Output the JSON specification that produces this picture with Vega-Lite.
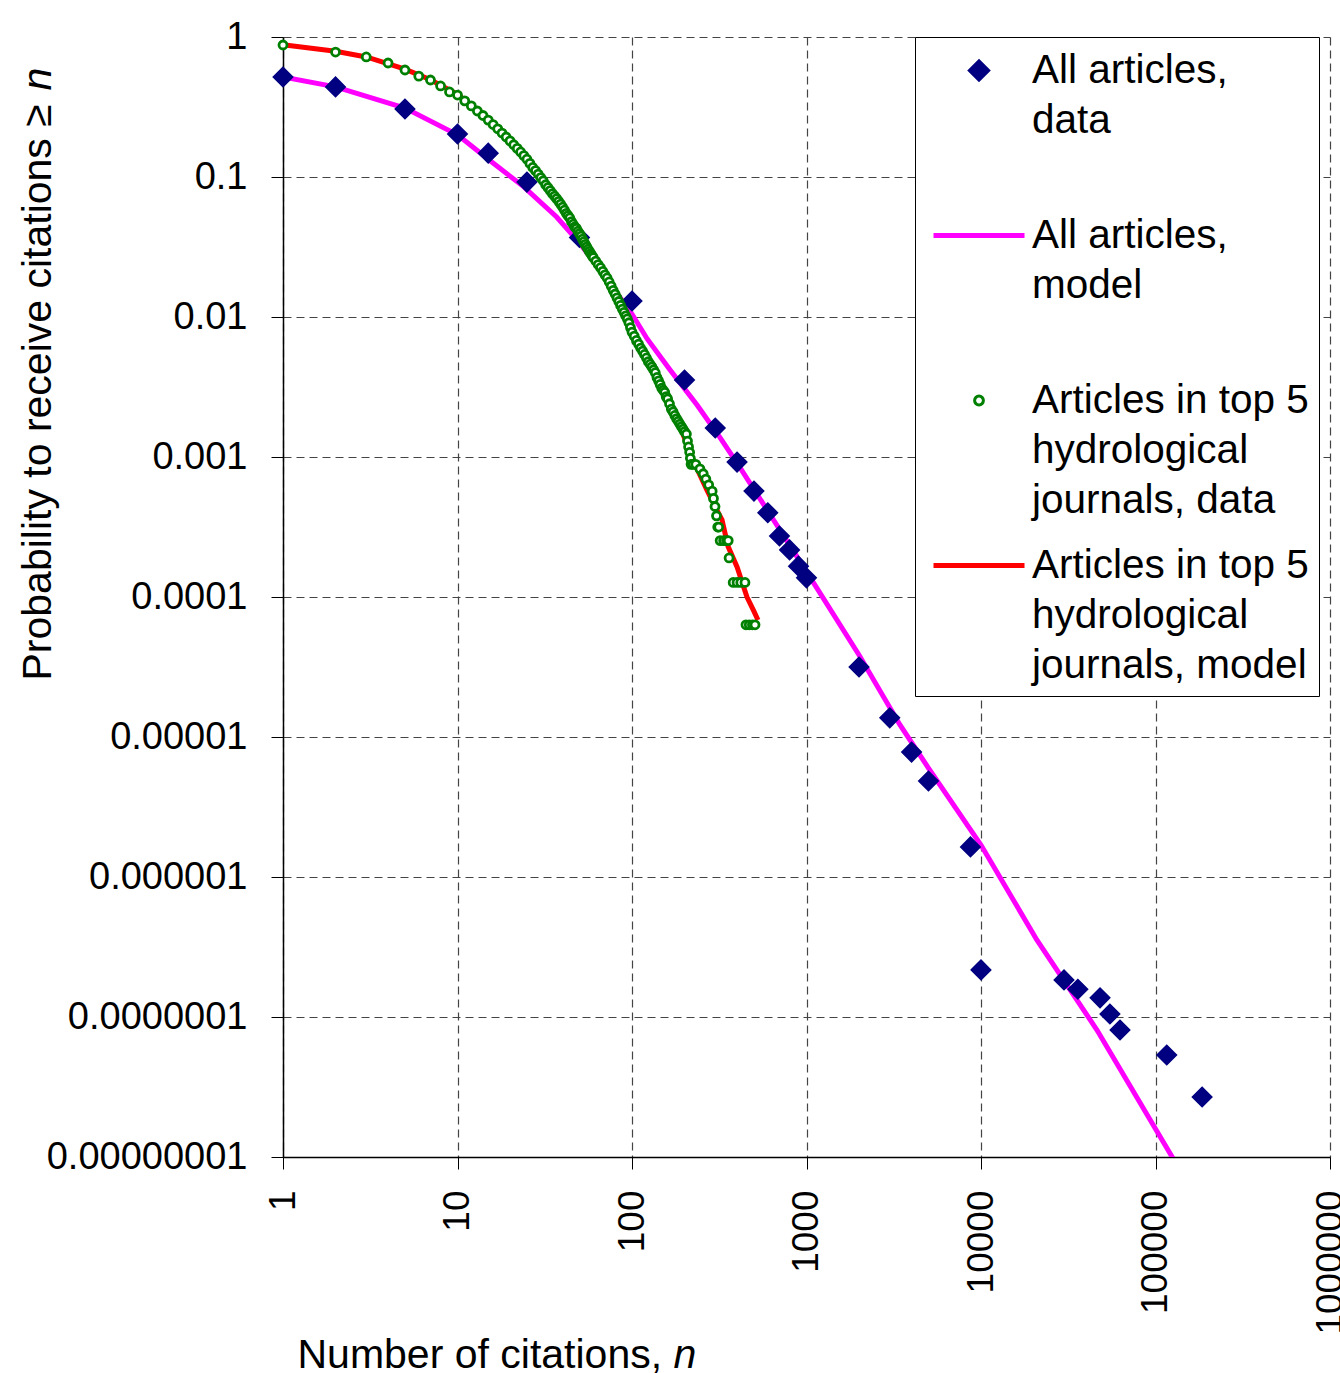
{
  "$schema": "https://vega.github.io/schema/vega-lite/v6.json",
  "width": 1047,
  "height": 1120,
  "autosize": {"type": "none"},
  "padding": {"left": 283, "top": 37, "right": 10, "bottom": 216},
  "background": "white",
  "datasets": {
    "A": [
      {"n": 1, "p": 0.518, "s": "A"}, {"n": 2, "p": 0.44, "s": "A"}, {"n": 5, "p": 0.306, "s": "A"},
      {"n": 10, "p": 0.203, "s": "A"}, {"n": 15, "p": 0.148, "s": "A"}, {"n": 25, "p": 0.092, "s": "A"},
      {"n": 50, "p": 0.037, "s": "A"}, {"n": 100, "p": 0.013, "s": "A"}, {"n": 200, "p": 0.00355, "s": "A"},
      {"n": 300, "p": 0.00161, "s": "A"}, {"n": 400, "p": 0.00092, "s": "A"}, {"n": 500, "p": 0.000571, "s": "A"},
      {"n": 600, "p": 0.0004, "s": "A"}, {"n": 700, "p": 0.000273, "s": "A"}, {"n": 800, "p": 0.000217, "s": "A"},
      {"n": 900, "p": 0.000166, "s": "A"}, {"n": 1000, "p": 0.000137, "s": "A"}, {"n": 2000, "p": 3.16e-5, "s": "A"},
      {"n": 3000, "p": 1.37e-5, "s": "A"}, {"n": 4000, "p": 7.8e-6, "s": "A"}, {"n": 5000, "p": 4.85e-6, "s": "A"},
      {"n": 8700, "p": 1.64e-6, "s": "A"}, {"n": 10000, "p": 2.17e-7, "s": "A"}, {"n": 29900, "p": 1.84e-7, "s": "A"},
      {"n": 35900, "p": 1.58e-7, "s": "A"}, {"n": 48100, "p": 1.37e-7, "s": "A"}, {"n": 54800, "p": 1.05e-7, "s": "A"},
      {"n": 62600, "p": 8.07e-8, "s": "A"}, {"n": 116000, "p": 5.35e-8, "s": "A"}, {"n": 185000, "p": 2.68e-8, "s": "A"}
    ],
    "B": [
      {"n": 1, "p": 0.518, "s": "B"}, {"n": 2, "p": 0.44, "s": "B"}, {"n": 5, "p": 0.311, "s": "B"},
      {"n": 10, "p": 0.2, "s": "B"}, {"n": 15, "p": 0.134, "s": "B"}, {"n": 24, "p": 0.085, "s": "B"},
      {"n": 37, "p": 0.0518, "s": "B"}, {"n": 50, "p": 0.0338, "s": "B"}, {"n": 70, "p": 0.0195, "s": "B"},
      {"n": 100, "p": 0.0105, "s": "B"}, {"n": 122, "p": 0.007, "s": "B"}, {"n": 165, "p": 0.0042, "s": "B"},
      {"n": 236, "p": 0.00235, "s": "B"}, {"n": 319, "p": 0.00138, "s": "B"}, {"n": 416, "p": 0.00084, "s": "B"},
      {"n": 594, "p": 0.00042, "s": "B"}, {"n": 800, "p": 0.000235, "s": "B"}, {"n": 1000, "p": 0.000152, "s": "B"},
      {"n": 2000, "p": 3.85e-5, "s": "B"}, {"n": 3435, "p": 1.22e-5, "s": "B"}, {"n": 5000, "p": 6.0e-6, "s": "B"},
      {"n": 10000, "p": 1.69e-6, "s": "B"}, {"n": 20900, "p": 3.55e-7, "s": "B"}, {"n": 46200, "p": 8.07e-8, "s": "B"},
      {"n": 147600, "p": 7.0e-9, "s": "B"}
    ],
    "C": [
      {"n": 1, "p": 0.877, "s": "C"}, {"n": 2, "p": 0.781, "s": "C"}, {"n": 3, "p": 0.72, "s": "C"},
      {"n": 4, "p": 0.652, "s": "C"}, {"n": 5, "p": 0.581, "s": "C"}, {"n": 6, "p": 0.525, "s": "C"},
      {"n": 7, "p": 0.493, "s": "C"}, {"n": 8, "p": 0.447, "s": "C"}, {"n": 9, "p": 0.405, "s": "C"},
      {"n": 10, "p": 0.385, "s": "C"}, {"n": 11, "p": 0.35, "s": "C"}, {"n": 12, "p": 0.322, "s": "C"},
      {"n": 13, "p": 0.296, "s": "C"}, {"n": 14, "p": 0.275, "s": "C"}, {"n": 15, "p": 0.255, "s": "C"},
      {"n": 16, "p": 0.237, "s": "C"}, {"n": 17, "p": 0.221, "s": "C"}, {"n": 18, "p": 0.206, "s": "C"},
      {"n": 19, "p": 0.193, "s": "C"}, {"n": 20, "p": 0.181, "s": "C"}, {"n": 21, "p": 0.17, "s": "C"},
      {"n": 22, "p": 0.16, "s": "C"}, {"n": 23, "p": 0.151, "s": "C"}, {"n": 24, "p": 0.142, "s": "C"},
      {"n": 25, "p": 0.134, "s": "C"}, {"n": 26, "p": 0.125, "s": "C"}, {"n": 27, "p": 0.117, "s": "C"},
      {"n": 28, "p": 0.111, "s": "C"}, {"n": 29, "p": 0.105, "s": "C"}, {"n": 30, "p": 0.099, "s": "C"},
      {"n": 31, "p": 0.094, "s": "C"}, {"n": 32, "p": 0.088, "s": "C"}, {"n": 33, "p": 0.084, "s": "C"},
      {"n": 34, "p": 0.08, "s": "C"}, {"n": 35, "p": 0.076, "s": "C"}, {"n": 36, "p": 0.073, "s": "C"},
      {"n": 37, "p": 0.07, "s": "C"}, {"n": 38, "p": 0.067, "s": "C"}, {"n": 39, "p": 0.064, "s": "C"},
      {"n": 40, "p": 0.061, "s": "C"}, {"n": 41, "p": 0.058, "s": "C"}, {"n": 42, "p": 0.055, "s": "C"},
      {"n": 43, "p": 0.053, "s": "C"}, {"n": 44, "p": 0.051, "s": "C"}, {"n": 45, "p": 0.048, "s": "C"},
      {"n": 46, "p": 0.046, "s": "C"}, {"n": 47, "p": 0.044, "s": "C"}, {"n": 48, "p": 0.043, "s": "C"},
      {"n": 49, "p": 0.041, "s": "C"}, {"n": 50, "p": 0.0395, "s": "C"}, {"n": 51, "p": 0.0378, "s": "C"},
      {"n": 52, "p": 0.036, "s": "C"}, {"n": 53, "p": 0.0345, "s": "C"}, {"n": 54, "p": 0.033, "s": "C"},
      {"n": 55, "p": 0.0317, "s": "C"}, {"n": 56, "p": 0.0305, "s": "C"}, {"n": 57, "p": 0.0294, "s": "C"},
      {"n": 58, "p": 0.0284, "s": "C"}, {"n": 59, "p": 0.0275, "s": "C"}, {"n": 60, "p": 0.0266, "s": "C"},
      {"n": 62, "p": 0.0251, "s": "C"}, {"n": 64, "p": 0.0237, "s": "C"}, {"n": 66, "p": 0.0225, "s": "C"},
      {"n": 68, "p": 0.0212, "s": "C"}, {"n": 70, "p": 0.02, "s": "C"}, {"n": 72, "p": 0.019, "s": "C"},
      {"n": 74, "p": 0.0178, "s": "C"}, {"n": 76, "p": 0.0166, "s": "C"}, {"n": 78, "p": 0.0155, "s": "C"},
      {"n": 80, "p": 0.0146, "s": "C"}, {"n": 82, "p": 0.0137, "s": "C"}, {"n": 84, "p": 0.0129, "s": "C"},
      {"n": 86, "p": 0.0121, "s": "C"}, {"n": 88, "p": 0.0114, "s": "C"}, {"n": 90, "p": 0.0108, "s": "C"},
      {"n": 92, "p": 0.0102, "s": "C"}, {"n": 94, "p": 0.0097, "s": "C"}, {"n": 96, "p": 0.0091, "s": "C"},
      {"n": 98, "p": 0.0084, "s": "C"}, {"n": 100, "p": 0.0078, "s": "C"}, {"n": 103, "p": 0.0073, "s": "C"},
      {"n": 106, "p": 0.0068, "s": "C"}, {"n": 109, "p": 0.0064, "s": "C"}, {"n": 112, "p": 0.006, "s": "C"},
      {"n": 115, "p": 0.0057, "s": "C"}, {"n": 118, "p": 0.0054, "s": "C"}, {"n": 121, "p": 0.0051, "s": "C"},
      {"n": 124, "p": 0.0048, "s": "C"}, {"n": 127, "p": 0.0046, "s": "C"}, {"n": 130, "p": 0.0044, "s": "C"},
      {"n": 133, "p": 0.0042, "s": "C"}, {"n": 136, "p": 0.004, "s": "C"}, {"n": 139, "p": 0.0037, "s": "C"},
      {"n": 142, "p": 0.0035, "s": "C"}, {"n": 145, "p": 0.0033, "s": "C"}, {"n": 148, "p": 0.0031, "s": "C"},
      {"n": 151, "p": 0.003, "s": "C"}, {"n": 154, "p": 0.0029, "s": "C"}, {"n": 157, "p": 0.0027, "s": "C"},
      {"n": 160, "p": 0.0026, "s": "C"}, {"n": 164, "p": 0.0024, "s": "C"}, {"n": 168, "p": 0.0022, "s": "C"},
      {"n": 172, "p": 0.0021, "s": "C"}, {"n": 176, "p": 0.00198, "s": "C"}, {"n": 180, "p": 0.00188, "s": "C"},
      {"n": 184, "p": 0.0018, "s": "C"}, {"n": 188, "p": 0.00172, "s": "C"}, {"n": 192, "p": 0.00165, "s": "C"},
      {"n": 196, "p": 0.00158, "s": "C"}, {"n": 200, "p": 0.00152, "s": "C"}, {"n": 205, "p": 0.00146, "s": "C"},
      {"n": 208, "p": 0.0013, "s": "C"}, {"n": 211, "p": 0.00118, "s": "C"}, {"n": 214, "p": 0.00108, "s": "C"},
      {"n": 216, "p": 0.00098, "s": "C"}, {"n": 218, "p": 0.000886, "s": "C"}, {"n": 224, "p": 0.000886, "s": "C"},
      {"n": 232, "p": 0.000886, "s": "C"}, {"n": 245, "p": 0.000823, "s": "C"}, {"n": 256, "p": 0.000759, "s": "C"},
      {"n": 265, "p": 0.000696, "s": "C"}, {"n": 275, "p": 0.000633, "s": "C"}, {"n": 288, "p": 0.00057, "s": "C"},
      {"n": 293, "p": 0.000506, "s": "C"}, {"n": 299, "p": 0.000443, "s": "C"}, {"n": 305, "p": 0.00038, "s": "C"},
      {"n": 310, "p": 0.000316, "s": "C"}, {"n": 314, "p": 0.000316, "s": "C"}, {"n": 320, "p": 0.000253, "s": "C"},
      {"n": 335, "p": 0.000253, "s": "C"}, {"n": 348, "p": 0.000253, "s": "C"}, {"n": 356, "p": 0.000253, "s": "C"},
      {"n": 360, "p": 0.00019, "s": "C"}, {"n": 380, "p": 0.000127, "s": "C"}, {"n": 400, "p": 0.000127, "s": "C"},
      {"n": 420, "p": 0.000127, "s": "C"}, {"n": 444, "p": 0.000127, "s": "C"}, {"n": 450, "p": 6.33e-5, "s": "C"},
      {"n": 470, "p": 6.33e-5, "s": "C"}, {"n": 490, "p": 6.33e-5, "s": "C"}, {"n": 507, "p": 6.33e-5, "s": "C"}
    ],
    "D": [
      {"n": 1, "p": 0.88, "s": "D"}, {"n": 2, "p": 0.79, "s": "D"}, {"n": 3, "p": 0.72, "s": "D"},
      {"n": 5, "p": 0.59, "s": "D"}, {"n": 7, "p": 0.495, "s": "D"}, {"n": 10, "p": 0.39, "s": "D"},
      {"n": 15, "p": 0.262, "s": "D"}, {"n": 20, "p": 0.184, "s": "D"}, {"n": 25, "p": 0.135, "s": "D"},
      {"n": 30, "p": 0.101, "s": "D"}, {"n": 40, "p": 0.062, "s": "D"}, {"n": 50, "p": 0.0405, "s": "D"},
      {"n": 60, "p": 0.0275, "s": "D"}, {"n": 70, "p": 0.02, "s": "D"}, {"n": 80, "p": 0.0148, "s": "D"},
      {"n": 100, "p": 0.0083, "s": "D"}, {"n": 120, "p": 0.0053, "s": "D"}, {"n": 150, "p": 0.0031, "s": "D"},
      {"n": 194, "p": 0.0015, "s": "D"}, {"n": 230, "p": 0.00088, "s": "D"}, {"n": 269, "p": 0.00058, "s": "D"},
      {"n": 300, "p": 0.00044, "s": "D"}, {"n": 328, "p": 0.000355, "s": "D"}, {"n": 355, "p": 0.00023, "s": "D"},
      {"n": 400, "p": 0.000164, "s": "D"}, {"n": 456, "p": 0.0001, "s": "D"}, {"n": 500, "p": 7.9e-5, "s": "D"},
      {"n": 527, "p": 6.85e-5, "s": "D"}
    ]
  },
  "layer": [
    {
      "data": {"name": "B"},
      "mark": {"type": "line", "strokeWidth": 5, "clip": true},
      "encoding": {
        "x": {
          "field": "n", "type": "quantitative",
          "scale": {"type": "log", "domain": [1, 1000000], "nice": false},
          "axis": {
            "orient": "bottom",
            "values": [1, 10, 100, 1000, 10000, 100000, 1000000],
            "labelExpr": "format(datum.value, 'd')",
            "labelAngle": 270, "labelAlign": "right", "labelBaseline": "middle",
            "labelFontSize": 37, "labelPadding": 21, "labelOverlap": false, "labelFlush": false, "labelBound": false,
            "labelLimit": 400,
            "grid": true,
            "title": "Number of citations,", "titleFontSize": 41, "titleX": 14, "titleY": 210,
            "titleAlign": "left", "titleBaseline": "alphabetic", "titleAngle": 0
          }
        },
        "y": {
          "field": "p", "type": "quantitative",
          "scale": {"type": "log", "domain": [1e-8, 1], "nice": false},
          "axis": {
            "orient": "left",
            "values": [1e-8, 1e-7, 1e-6, 1e-5, 0.0001, 0.001, 0.01, 0.1, 1],
            "labelExpr": "format(datum.value, '.8~f')",
            "labelFontSize": 38, "labelPadding": 24, "labelOverlap": false, "labelFlush": false, "labelBound": false,
            "labelLimit": 400,
            "grid": true,
            "title": "Probability to receive citations ≥", "titleFontSize": 41, "titleAngle": 270,
            "titleX": -233, "titleY": 643, "titleAlign": "left", "titleBaseline": "alphabetic"
          }
        },
        "stroke": {
          "field": "s", "type": "nominal",
          "scale": {"domain": ["A", "B", "C", "D"], "range": ["#000080", "#FF00FF", "#008000", "#FF0000"]},
          "legend": {
            "title": null, "orient": "none", "legendX": 632, "legendY": 0, "direction": "vertical", "columns": 1,
            "padding": 10, "fillColor": "white", "strokeColor": "#000000",
            "symbolSize": 1936, "symbolStrokeWidth": 3, "symbolOffset": 30.5, "labelOffset": 29.5, "symbolOpacity": 1,
            "labelFont": "Liberation Sans", "labelFontSize": 40.5, "labelColor": "#000000", "labelLimit": 1000,
            "labelBaseline": "middle", "rowPadding": 21,
            "labelExpr": "datum.value == 'A' ? ['All articles,', 'data', ''] : datum.value == 'B' ? ['All articles,', 'model', ''] : datum.value == 'C' ? ['Articles in top 5', 'hydrological', 'journals, data'] : ['Articles in top 5', 'hydrological', 'journals, model']"
          }
        }
      }
    },
    {
      "data": {"name": "A"},
      "mark": {"type": "point", "size": 1964, "filled": true, "strokeWidth": 1.5, "opacity": 1},
      "encoding": {
        "x": {"field": "n", "type": "quantitative", "axis": null},
        "y": {"field": "p", "type": "quantitative", "axis": null},
        "stroke": {"field": "s", "type": "nominal"},
        "fill": {
          "field": "s", "type": "nominal",
          "scale": {"domain": ["A", "B", "C", "D"], "range": ["#000080", "#FF00FF", "#FFFFFF", "#FF0000"]}
        },
        "shape": {
          "field": "s", "type": "nominal",
          "scale": {"domain": ["A", "B", "C", "D"], "range": ["M-0.44,0L0,-0.44L0.44,0L0,0.44Z", "M-2,-0.04L2,-0.04L2,0.04L-2,0.04Z", "M-0.2,0C-0.2,-0.11,-0.11,-0.2,0,-0.2C0.11,-0.2,0.2,-0.11,0.2,0C0.2,0.11,0.11,0.2,0,0.2C-0.11,0.2,-0.2,0.11,-0.2,0Z", "M-2,-0.04L2,-0.04L2,0.04L-2,0.04Z"]}
        }
      }
    },
    {
      "data": {"name": "D"},
      "mark": {"type": "line", "strokeWidth": 5},
      "encoding": {
        "x": {
          "field": "n", "type": "quantitative",
          "axis": {
            "orient": "top", "domain": false, "ticks": false, "labels": false, "grid": false,
            "title": "n", "titleFontStyle": "italic", "titleFontSize": 41, "titleX": 390, "titleY": 1330,
            "titleAlign": "left", "titleBaseline": "alphabetic", "titleAngle": 0
          }
        },
        "y": {
          "field": "p", "type": "quantitative",
          "axis": {
            "orient": "right", "domain": false, "ticks": false, "labels": false, "grid": false,
            "title": "n", "titleFontStyle": "italic", "titleFontSize": 41, "titleAngle": 270,
            "titleX": -1280, "titleY": 53, "titleAlign": "left", "titleBaseline": "alphabetic"
          }
        },
        "stroke": {"field": "s", "type": "nominal"}
      }
    },
    {
      "data": {"name": "C"},
      "mark": {"type": "point", "size": 1600, "filled": true, "strokeWidth": 2.8, "opacity": 1},
      "encoding": {
        "x": {"field": "n", "type": "quantitative", "axis": null},
        "y": {"field": "p", "type": "quantitative", "axis": null},
        "stroke": {"field": "s", "type": "nominal"},
        "fill": {"field": "s", "type": "nominal"},
        "shape": {"field": "s", "type": "nominal"}
      }
    }
  ],
  "resolve": {"axis": {"x": "independent", "y": "independent"}},
  "config": {
    "font": "Liberation Sans",
    "view": {"stroke": null},
    "style": {"guide-label": {"lineHeight": 50}},
    "axis": {
      "labelFont": "Liberation Sans", "labelColor": "#000000",
      "titleFont": "Liberation Sans", "titleColor": "#000000", "titleFontWeight": "normal",
      "domainColor": "#000000", "domainWidth": 1.5,
      "tickColor": "#000000", "tickWidth": 1, "tickSize": 12,
      "gridColor": "#444444", "gridDash": [8, 5], "gridWidth": 1.2, "gridOpacity": 1
    }
  }
}
